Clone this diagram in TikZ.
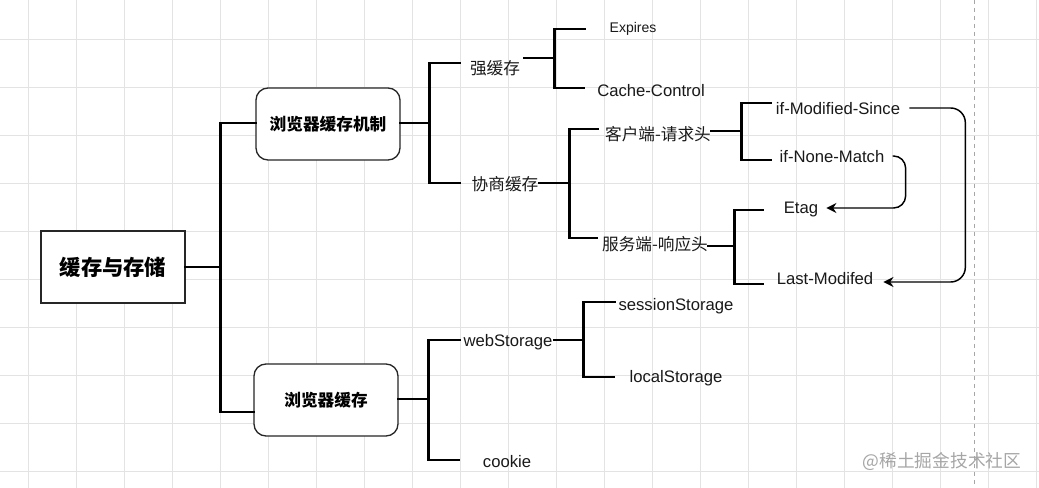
\documentclass[tikz,border=0pt]{standalone}
\usepackage{fontspec}
\setmainfont{Liberation Sans}
\newfontfamily\cjk{Noto Sans CJK SC}
\usetikzlibrary{calc,arrows.meta}
\begin{document}
\begin{tikzpicture}[x=0.75pt,y=-0.75pt,
  tree/.style={line width=2.2pt,black,line cap=rect},
  arr/.style={line width=1.1pt,black,-{Stealth[length=7.5pt,width=7.5pt]}},
  box/.style={draw=black!85,line width=1pt,minimum width=108pt,minimum height=54pt,inner sep=0pt,fill=white},
  rbox/.style={box,rounded corners=9pt},
  lbl/.style={inner sep=0pt,text=black!90,font=\fontsize{12.5}{14}\selectfont},
  clbl/.style={inner sep=0pt,text=black!90,font=\cjk\fontsize{12.5}{14}\selectfont},
]
\useasboundingbox (0,0) rectangle (1039,488);
\fill[white] (0,0) rectangle (1039,488);
% grid
\foreach \i in {0,...,21} \draw[black!11,line width=0.6pt] (28.5+48*\i,0) -- (28.5+48*\i,488);
\foreach \j in {0,...,9} \draw[black!11,line width=0.6pt] (0,39+48*\j) -- (1039,39+48*\j);
\draw[black!35,line width=0.6pt,dash pattern=on 3pt off 3pt] (974,0) -- (974,488);

% boxes
\node[box,font=\cjk\bfseries\fontsize{16}{18}\selectfont] (root) at (113,267) {缓存与存储};
\node[rbox,font=\cjk\bfseries\fontsize{12.5}{14}\selectfont] (b1) at (328,124) {浏览器缓存机制};
\node[rbox,font=\cjk\bfseries\fontsize{12.5}{14}\selectfont] (b2) at (326,400) {浏览器缓存};

% labels
\node[clbl] (qiang) at (495,68) {强缓存};
\node[clbl] (xie) at (505,184) {协商缓存};
\node[lbl,font=\fontsize{10.5}{12}\selectfont] (exp) at (633,29) {Expires};
\node[lbl] (cc) at (651,91) {Cache-Control};
\node[clbl] (kh) at (658,134) {客户端-请求头};
\node[clbl] (fw) at (655,244) {服务端-响应头};
\node[lbl] (ims) at (838,109) {if-Modified-Since};
\node[lbl] (inm) at (832,157) {if-None-Match};
\node[lbl] (etag) at (801,209) {Etag};
\node[lbl] (lm) at (825,279) {Last-Modifed};
\node[lbl] (ws) at (508,342) {webStorage};
\node[lbl] (ck) at (507,462) {cookie};
\node[lbl] (ss) at (676,306) {sessionStorage};
\node[lbl] (ls) at (676,378) {localStorage};
\node[inner sep=0pt,text=black!35,font=\cjk\fontsize{13.3}{15}\selectfont] (wm) at (942,462) {@稀土掘金技术社区};

% tree connectors
\draw[tree] (root.east) -- ++(35,0) coordinate (t0) |- ($(b1.west)+(0,-1)$);
\draw[tree] (t0) |- ($(b2.west)+(0,12)$);

\draw[tree] ($(b1.east)+(0,-1)$) -- ++(29,0) coordinate (t1) |- ($(qiang.west)+(-10,-5)$);
\draw[tree] (t1) |- ($(xie.west)+(-12,-1)$);

\draw[tree] ($(qiang.east)+(4,-10)$) -- ++(30,0) coordinate (t2) |- ($(exp.west)+(-25,0)$);
\draw[tree] (t2) |- ($(cc.west)+(-13,-3)$);

\draw[tree] ($(xie.east)+(1,-1)$) -- ++(30,0) coordinate (t3) |- ($(kh.west)+(-7,-5)$);
\draw[tree] (t3) |- ($(fw.west)+(-5,-6)$);

\draw[tree] ($(kh.east)+(0,-3)$) -- ++(30,0) coordinate (t4) |- ($(ims.west)+(-5,-6)$);
\draw[tree] (t4) |- ($(inm.west)+(-9,3)$);

\draw[tree] ($(fw.east)+(0,2)$) -- ++(26,0) coordinate (t5) |- ($(etag.west)+(-21,1)$);
\draw[tree] (t5) |- ($(lm.west)+(-14,5)$);

\draw[tree] ($(b2.east)+(0,-1)$) -- ++(30,0) coordinate (t6) |- ($(ws.west)+(-4,-2)$);
\draw[tree] (t6) |- ($(ck.west)+(-24,-2)$);

\draw[tree] ($(ws.east)+(2,-2)$) -- ++(29,0) coordinate (t7) |- ($(ss.west)+(-4,-4)$);
\draw[tree] (t7) |- ($(ls.west)+(-16,-1)$);

% arrows
\draw[arr,rounded corners=9pt] ($(inm.east)+(8,-1)$) -- ++(13,0) |- ($(etag.east)+(8,-1)$);
\draw[arr,rounded corners=11pt] ($(ims.east)+(9,-1)$) -- ++(56,0) |- ($(lm.east)+(10,3)$);
\end{tikzpicture}
\end{document}
